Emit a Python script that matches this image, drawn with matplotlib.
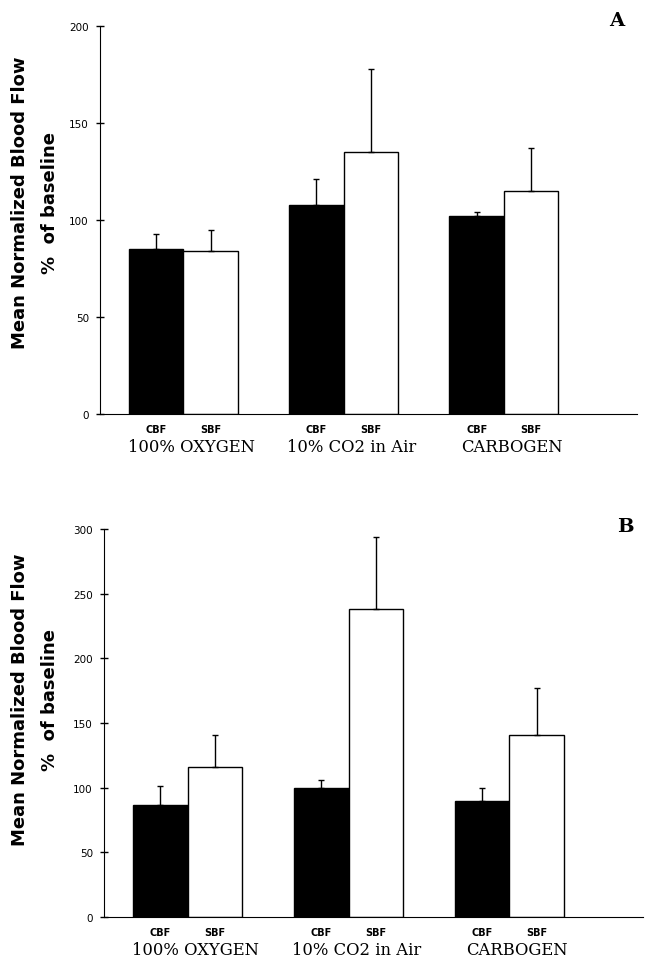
import numpy as np
import matplotlib
matplotlib.use('Agg')
import matplotlib.pyplot as plt

# data
groups = ['100% OXYGEN', '10% CO2 in Air', 'CARBOGEN']
bar_labels = ['CBF', 'SBF']

cbf_a = [85, 108, 102]
cbf_a_err = [8, 13, 2]
sbf_a = [84, 135, 115]
sbf_a_err = [11, 43, 22]

cbf_b = [87, 100, 90]
cbf_b_err = [14, 6, 10]
sbf_b = [116, 238, 141]
sbf_b_err = [25, 56, 36]

ticks_a = [0, 50, 100, 150, 200]
ticks_b = [0, 50, 100, 150, 200, 250, 300]

width = 0.34


def draw_panel(ax, cbf, cbf_err, sbf, sbf_err, yticks):
    x = np.arange(len(groups))
    ax.bar(x - width / 2, cbf, width, color='black', edgecolor='black', linewidth=1)
    ax.bar(x + width / 2, sbf, width, color='white', edgecolor='black', linewidth=1)
    # only upper error bars
    ax.errorbar(x - width / 2, cbf, yerr=[np.zeros(3), cbf_err], fmt='none',
                ecolor='black', elinewidth=1, capsize=2, capthick=1)
    ax.errorbar(x + width / 2, sbf, yerr=[np.zeros(3), sbf_err], fmt='none',
                ecolor='black', elinewidth=1, capsize=2, capthick=1)

    ax.set_xlim(-0.52, 2.83)
    ax.set_ylim(0, yticks[-1])
    ax.set_yticks(yticks)
    ax.set_yticklabels([str(t) for t in yticks], fontsize=7.5, family='DejaVu Sans')
    ax.tick_params(axis='y', direction='inout', length=6, width=1, pad=5)

    ax.spines['top'].set_visible(False)
    ax.spines['right'].set_visible(False)

    # CBF / SBF under bars
    pos = np.concatenate([x - width / 2, x + width / 2])
    ax.set_xticks(sorted(pos))
    ax.set_xticklabels(bar_labels * 3, fontsize=7, fontweight='heavy')
    ax.tick_params(axis='x', length=0, pad=7)

    # condition names under the pairs (a bit right of centre, as in original)
    trans = ax.get_xaxis_transform()
    for i, g in enumerate(groups):
        ax.text(i + 0.05, -0.083, g, transform=trans, ha='center', va='center',
                fontsize=11.8, family='DejaVu Serif')


fig = plt.figure(figsize=(6.47, 9.62), dpi=100)
ax_a = fig.add_axes([0.1546, 0.5686, 0.830, 0.4033])
ax_b = fig.add_axes([0.1607, 0.0457, 0.833, 0.4033])

draw_panel(ax_a, cbf_a, cbf_a_err, sbf_a, sbf_a_err, ticks_a)
draw_panel(ax_b, cbf_b, cbf_b_err, sbf_b, sbf_b_err, ticks_b)

# panel letters
fig.text(617 / 647, 1 - 21 / 962, 'A', ha='center', va='center',
         fontsize=14, fontweight='bold', family='DejaVu Serif')
fig.text(625 / 647, 1 - 527 / 962, 'B', ha='center', va='center',
         fontsize=14, fontweight='bold', family='DejaVu Serif')

# y labels, two lines each
for yc in [1 - 203 / 962, 1 - 700 / 962]:
    fig.text(20 / 647, yc, 'Mean Normalized Blood Flow', rotation=90,
             ha='center', va='center', fontsize=13, fontweight='bold')
    fig.text(50 / 647, yc, '%  of baseline', rotation=90,
             ha='center', va='center', fontsize=13, fontweight='bold')

fig.savefig('out.png', dpi=100)
